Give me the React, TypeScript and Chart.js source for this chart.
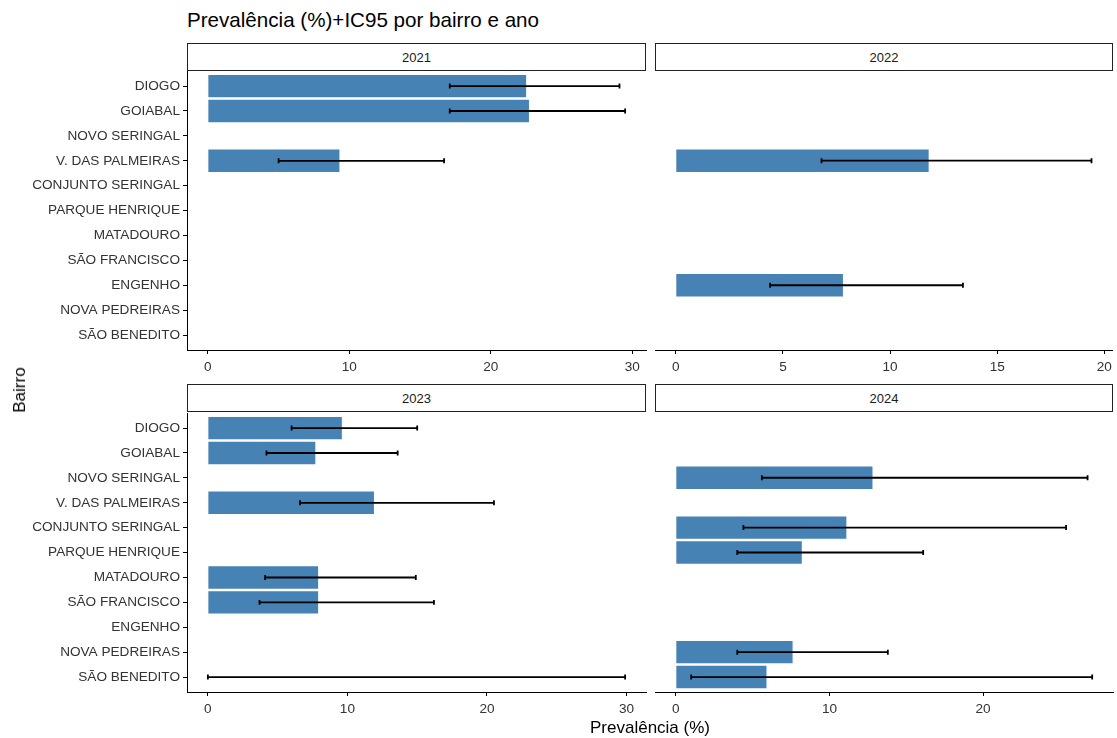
import React, { useEffect, useRef } from 'react';
import { Chart, registerables } from 'chart.js';

Chart.register(...registerables);

const FONT = '"Liberation Sans", Arial, Helvetica, sans-serif';

const bairros = [
  'DIOGO',
  'GOIABAL',
  'NOVO SERINGAL',
  'V. DAS PALMEIRAS',
  'CONJUNTO SERINGAL',
  'PARQUE HENRIQUE',
  'MATADOURO',
  'SÃO FRANCISCO',
  'ENGENHO',
  'NOVA PEDREIRAS',
  'SÃO BENEDITO',
];

const years = ['2021', '2022', '2023', '2024'];

const prev2021 = [22.5, 22.7, null, 9.3, null, null, null, null, null, null, null];
const low2021 = [17.1, 17.1, null, 5.0, null, null, null, null, null, null, null];
const high2021 = [29.1, 29.5, null, 16.7, null, null, null, null, null, null, null];

const prev2022 = [null, null, null, 11.8, null, null, null, null, 7.8, null, null];
const low2022 = [null, null, null, 6.8, null, null, null, null, 4.4, null, null];
const high2022 = [null, null, null, 19.4, null, null, null, null, 13.4, null, null];

const prev2023 = [9.6, 7.7, null, 11.9, null, null, 7.9, 7.9, null, null, 0];
const low2023 = [6.0, 4.2, null, 6.6, null, null, 4.1, 3.7, null, null, 0];
const high2023 = [15.0, 13.6, null, 20.5, null, null, 14.9, 16.2, null, null, 29.9];

const prev2024 = [null, null, 12.8, null, 11.1, 8.2, null, null, null, 7.6, 5.9];
const low2024 = [null, null, 5.6, null, 4.4, 4.0, null, null, null, 4.0, 1.0];
const high2024 = [null, null, 26.8, null, 25.4, 16.1, null, null, null, 13.8, 27.1];

const ticks2021 = [0, 10, 20, 30];
const ticks2022 = [0, 5, 10, 15, 20];
const ticks2023 = [0, 10, 20, 30];
const ticks2024 = [0, 10, 20];

type PanelDef = {
  year: string;
  prev: (number | null)[];
  low: (number | null)[];
  high: (number | null)[];
  ticks: number[];
  left: number;
  top: number;
  width: number;
  showY: boolean;
};

const CANVAS_H = 320;
const TOP_PAD = 11;
const XAXIS_H = 30;

const panels: PanelDef[] = [
  { year: years[0], prev: prev2021, low: low2021, high: high2021, ticks: ticks2021, left: 0, top: 60, width: 650, showY: true },
  { year: years[1], prev: prev2022, low: low2022, high: high2022, ticks: ticks2022, left: 655, top: 60, width: 462, showY: false },
  { year: years[2], prev: prev2023, low: low2023, high: high2023, ticks: ticks2023, left: 0, top: 402, width: 650, showY: true },
  { year: years[3], prev: prev2024, low: low2024, high: high2024, ticks: ticks2024, left: 655, top: 402, width: 462, showY: false },
];

function makeErrorPlugin(low: (number | null)[], high: (number | null)[]) {
  return {
    id: 'errbars',
    afterDatasetsDraw(chart: any) {
      const xs = chart.scales.x;
      const ys = chart.scales.y;
      const ctx = chart.ctx;
      ctx.save();
      ctx.strokeStyle = '#000';
      ctx.lineWidth = 1.8;
      const cap = Math.abs(ys.getPixelForValue(0.1) - ys.getPixelForValue(0));
      low.forEach((lo, i) => {
        const hi = high[i];
        if (lo == null || hi == null) return;
        const y = ys.getPixelForValue(i);
        const x1 = xs.getPixelForValue(lo);
        const x2 = xs.getPixelForValue(hi);
        ctx.beginPath();
        ctx.moveTo(x1, y);
        ctx.lineTo(x2, y);
        ctx.moveTo(x1, y - cap);
        ctx.lineTo(x1, y + cap);
        ctx.moveTo(x2, y - cap);
        ctx.lineTo(x2, y + cap);
        ctx.stroke();
      });
      ctx.restore();
    },
  };
}

function Panel({ def }: { def: PanelDef }) {
  const ref = useRef<HTMLCanvasElement | null>(null);
  useEffect(() => {
    if (!ref.current) return;
    const highs = def.high.filter((v) => v != null) as number[];
    const M = Math.max(...highs);
    const data = def.prev
      .map((v, i) => (v == null ? null : { x: v, y: i }))
      .filter((d) => d != null);
    const chart = new Chart(ref.current, {
      type: 'bar',
      data: {
        datasets: [
          {
            data: data as any,
            backgroundColor: '#4682B4',
            borderWidth: 0,
            barPercentage: 0.9,
            categoryPercentage: 1,
          },
        ],
      },
      options: {
        indexAxis: 'y',
        animation: false,
        responsive: false,
        maintainAspectRatio: false,
        layout: { padding: { left: 0, right: 4, top: TOP_PAD, bottom: 0 } },
        plugins: { legend: { display: false }, tooltip: { enabled: false }, title: { display: false } },
        scales: {
          x: {
            type: 'linear',
            offset: false,
            min: -0.05 * M,
            max: 1.05 * M,
            afterBuildTicks: (s: any) => {
              s.ticks = def.ticks.map((v) => ({ value: v }));
            },
            afterFit: (s: any) => {
              s.height = XAXIS_H;
            },
            ticks: {
              callback: (v: any) => String(v),
              font: { family: FONT, size: 13.6 },
              color: '#333',
              padding: 5,
              maxRotation: 0,
            },
            grid: { display: true, offset: false, drawOnChartArea: false, drawTicks: true, tickLength: 4, color: '#000', lineWidth: 1 },
            border: { display: true, color: '#000', width: 1 },
          },
          y: {
            type: 'linear',
            offset: false,
            reverse: true,
            min: -0.6,
            max: 10.6,
            afterBuildTicks: (s: any) => {
              s.ticks = bairros.map((_, i) => ({ value: i }));
            },
            afterFit: (s: any) => {
              s.width = def.showY ? 187 : 0;
            },
            ticks: {
              display: def.showY,
              callback: (v: any) => bairros[v] ?? '',
              font: { family: FONT, size: 13.6 },
              color: '#333',
              padding: 3,
            },
            grid: def.showY
              ? { display: true, offset: false, drawOnChartArea: false, drawTicks: true, tickLength: 4, color: '#000', lineWidth: 1 }
              : { display: false, offset: false },
            border: { display: def.showY, color: '#000', width: 1 },
          },
        },
      } as any,
      plugins: [makeErrorPlugin(def.low, def.high)],
    });
    return () => chart.destroy();
  }, [def]);
  return (
    <canvas
      ref={ref}
      width={def.width}
      height={CANVAS_H}
      style={{ position: 'absolute', left: def.left, top: def.top, width: def.width, height: CANVAS_H }}
    />
  );
}

function Strip({ label, left, top, width }: { label: string; left: number; top: number; width: number }) {
  return (
    <div
      style={{
        position: 'absolute',
        left,
        top,
        width,
        height: 28,
        boxSizing: 'border-box',
        border: '1.5px solid #222',
        background: '#fff',
        display: 'flex',
        alignItems: 'center',
        justifyContent: 'center',
        fontFamily: FONT,
        fontSize: 13,
        color: '#1a1a1a',
      }}
    >
      {label}
    </div>
  );
}

export default function App() {
  return (
    <div
      style={{
        position: 'absolute',
        left: 0,
        top: 0,
        width: 1117,
        height: 738,
        background: '#fff',
        overflow: 'hidden',
        fontFamily: FONT,
      }}
    >
      <div style={{ position: 'absolute', left: 187, top: 8, fontSize: 20.6, lineHeight: '24px', color: '#000', whiteSpace: 'nowrap' }}>
        Prevalência (%)+IC95 por bairro e ano
      </div>
      <Strip label={years[0]} left={187} top={43} width={459} />
      <Strip label={years[1]} left={655} top={43} width={458} />
      <Strip label={years[2]} left={187} top={384} width={459} />
      <Strip label={years[3]} left={655} top={384} width={458} />
      {panels.map((p) => (
        <Panel key={p.year} def={p} />
      ))}
      <div
        style={{
          position: 'absolute',
          left: 550,
          width: 200,
          top: 718,
          lineHeight: '20px',
          textAlign: 'center',
          fontSize: 17,
          color: '#000',
        }}
      >
        Prevalência (%)
      </div>
      <div
        style={{
          position: 'absolute',
          left: 20,
          top: 390,
          transform: 'translate(-50%, -50%) rotate(-90deg)',
          fontSize: 17,
          lineHeight: '20px',
          color: '#000',
          whiteSpace: 'nowrap',
        }}
      >
        Bairro
      </div>
    </div>
  );
}
